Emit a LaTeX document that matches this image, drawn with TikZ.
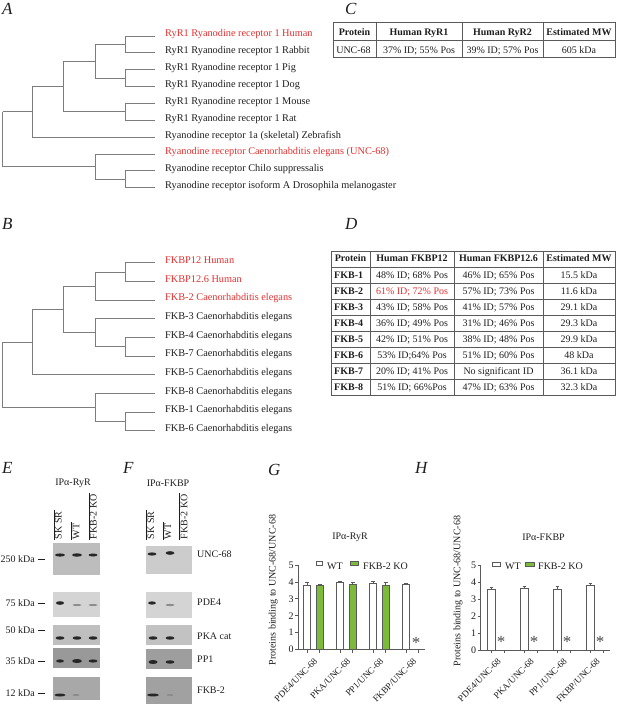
\documentclass[tikz,border=0pt]{standalone}
\usepackage{fontspec}
\setmainfont{Liberation Serif}
\definecolor{redtxt}{RGB}{226,48,48}
\definecolor{treegray}{RGB}{125,125,125}
\definecolor{axgray}{RGB}{90,90,90}
\definecolor{barg}{RGB}{124,186,58}
\definecolor{tabline}{RGB}{90,90,90}
\definecolor{txt}{RGB}{30,30,30}
\begin{document}
\begin{tikzpicture}[x=1pt,y=-1pt,
  tree/.style={draw=treegray,line width=0.9pt},
  leaf/.style={anchor=base west,inner sep=0pt,text=txt,font=\fontsize{10.3}{12}\selectfont},
  plabel/.style={anchor=base west,inner sep=0pt,text=txt,font=\fontsize{17}{20}\selectfont\itshape},
  cell/.style={anchor=base,inner sep=0pt,text=txt,font=\fontsize{10}{12}\selectfont},
  hcell/.style={cell,font=\fontsize{10}{12}\selectfont\bfseries},
  tab/.style={draw=tabline,line width=0.8pt},
  lab/.style={inner sep=0pt,text=txt,font=\fontsize{10}{12}\selectfont},
  catlab/.style={inner sep=0pt,text=txt,font=\fontsize{9.2}{11}\selectfont,rotate=45,anchor=east},
  lane/.style={lab,rotate=90,anchor=base west,inner sep=0.8pt},
  lanebar/.style={draw=txt,line width=0.7pt},
  band/.style={fill=black!85},
  fband/.style={fill=black!45},
  wtbar/.style={draw=axgray,fill=white,line width=0.7pt},
  kobar/.style={draw=axgray,fill=barg,line width=0.7pt},
  ax/.style={draw=axgray,line width=0.8pt},
  err/.style={draw=axgray,line width=0.6pt},
  star/.style={anchor=base,inner sep=0pt,text=black!70,font=\fontsize{17}{18}\selectfont},
]
\useasboundingbox (0,0) rectangle (617,706);

% ---------------- A ----------------
\node[plabel] (lA) at (2,15) {A};
\draw[tree] (155,36)--(125,36)--(125,52.9)--(155,52.9) (95,44.45)--(125,44.45);
\draw[tree] (155,69.7)--(125,69.7)--(125,86.6)--(155,86.6) (95,78.15)--(125,78.15);
\draw[tree] (95,44.45)--(95,78.15) (63.3,61.3)--(95,61.3);
\draw[tree] (155,103.4)--(125,103.4)--(125,120.3)--(155,120.3) (63.3,111.85)--(125,111.85);
\draw[tree] (63.3,61.3)--(63.3,111.85) (32.3,86.6)--(63.3,86.6);
\draw[tree] (32.3,86.6)--(32.3,137.2)--(155,137.2) (2.7,111.9)--(32.3,111.9);
\draw[tree] (155,170.9)--(125,170.9)--(125,187.7)--(155,187.7) (95,179.3)--(125,179.3);
\draw[tree] (155,154)--(95,154)--(95,179.3) (2.7,166.65)--(95,166.65);
\draw[tree] (2.7,111.9)--(2.7,166.65);
\node[leaf,text=redtxt] (a0) at (165,36.8) {RyR1 Ryanodine receptor 1 Human};
\node[leaf] (a1) at (165,53.7) {RyR1 Ryanodine receptor 1 Rabbit};
\node[leaf] (a2) at (165,70.5) {RyR1 Ryanodine receptor 1 Pig};
\node[leaf] (a3) at (165,87.4) {RyR1 Ryanodine receptor 1 Dog};
\node[leaf] (a4) at (165,104.2) {RyR1 Ryanodine receptor 1 Mouse};
\node[leaf] (a5) at (165,121.1) {RyR1 Ryanodine receptor 1 Rat};
\node[leaf] (a6) at (165,138) {Ryanodine receptor 1a (skeletal) Zebrafish};
\node[leaf,text=redtxt] (a7) at (165,154.8) {Ryanodine receptor Caenorhabditis elegans (UNC-68)};
\node[leaf] (a8) at (165,171.7) {Ryanodine receptor Chilo suppressalis};
\node[leaf] (a9) at (165,188.5) {Ryanodine receptor isoform A Drosophila melanogaster};

% ---------------- B ----------------
\node[plabel] (lB) at (2,229) {B};
\draw[tree] (155,262.7)--(125,262.7)--(125,281.4)--(155,281.4) (95,272.05)--(125,272.05);
\draw[tree] (95,272.05)--(95,300)--(155,300) (63.3,286)--(95,286);
\draw[tree] (155,337.4)--(125,337.4)--(125,356)--(155,356) (95,346.7)--(125,346.7);
\draw[tree] (155,318.7)--(95,318.7)--(95,346.7) (63.3,332.7)--(95,332.7);
\draw[tree] (63.3,286)--(63.3,332.7) (32.3,309.35)--(63.3,309.35);
\draw[tree] (32.3,309.35)--(32.3,374.7)--(155,374.7) (2,342)--(32.3,342);
\draw[tree] (155,412.1)--(125,412.1)--(125,430.7)--(155,430.7) (95,421.4)--(125,421.4);
\draw[tree] (155,393.4)--(95,393.4)--(95,421.4) (2,407.4)--(95,407.4);
\draw[tree] (2,342)--(2,407.4);
\node[leaf,text=redtxt] (b0) at (165,263.4) {FKBP12 Human};
\node[leaf,text=redtxt] (b1) at (165,282.1) {FKBP12.6 Human};
\node[leaf,text=redtxt] (b2) at (165,300.7) {FKB-2 Caenorhabditis elegans};
\node[leaf] (b3) at (165,319.4) {FKB-3 Caenorhabditis elegans};
\node[leaf] (b4) at (165,338.1) {FKB-4 Caenorhabditis elegans};
\node[leaf] (b5) at (165,356.7) {FKB-7 Caenorhabditis elegans};
\node[leaf] (b6) at (165,375.4) {FKB-5 Caenorhabditis elegans};
\node[leaf] (b7) at (165,394.1) {FKB-8 Caenorhabditis elegans};
\node[leaf] (b8) at (165,412.8) {FKB-1 Caenorhabditis elegans};
\node[leaf] (b9) at (165,431.4) {FKB-6 Caenorhabditis elegans};

% ---------------- C ----------------
\node[plabel] (lC) at (345,15) {C};
\draw[tab] (333,22.7) rectangle (615,57);
\draw[tab] (333,40)--(615,40) (376,22.7)--(376,57) (462,22.7)--(462,57) (543,22.7)--(543,57);
\node[hcell] (c01) at (354.5,36) {Protein};
\node[hcell] (c02) at (419,36) {Human RyR1};
\node[hcell] (c03) at (502.5,36) {Human RyR2};
\node[hcell] (c04) at (579,36) {Estimated MW};
\node[cell] (c11) at (353.5,53.3) {UNC-68};
\node[cell] (c12) at (419,53.3) {37\% ID; 55\% Pos};
\node[cell] (c13) at (502.5,53.3) {39\% ID; 57\% Pos};
\node[cell] (c14) at (579,53.3) {605 kDa};

% ---------------- D ----------------
\node[plabel] (lD) at (345,229) {D};
\draw[tab] (331,251.7) rectangle (615,395);
\foreach \yy in {267,283,...,379} \draw[tab] (331,\yy)--(615,\yy);
\draw[tab] (370,251.7)--(370,395) (454,251.7)--(454,395) (543,251.7)--(543,395);
\node[hcell] (d01) at (350.5,261.8) {Protein};
\node[hcell] (d02) at (412,261.8) {Human FKBP12};
\node[hcell] (d03) at (498.5,261.8) {Human FKBP12.6};
\node[hcell] (d04) at (579,261.8) {Estimated MW};
\node[hcell,anchor=base west] (d11) at (334,278.5) {FKB-1};
\node[cell] (d12) at (412,278.5) {48\% ID; 68\% Pos};
\node[cell] (d13) at (498.5,278.5) {46\% ID; 65\% Pos};
\node[cell] (d14) at (579,278.5) {15.5 kDa};
\node[hcell,anchor=base west] (d21) at (334,294.5) {FKB-2};
\node[cell,text=redtxt] (d22) at (412,294.5) {61\% ID; 72\% Pos};
\node[cell] (d23) at (498.5,294.5) {57\% ID; 73\% Pos};
\node[cell] (d24) at (579,294.5) {11.6 kDa};
\node[hcell,anchor=base west] (d31) at (334,310.5) {FKB-3};
\node[cell] (d32) at (412,310.5) {43\% ID; 58\% Pos};
\node[cell] (d33) at (498.5,310.5) {41\% ID; 57\% Pos};
\node[cell] (d34) at (579,310.5) {29.1 kDa};
\node[hcell,anchor=base west] (d41) at (334,326.5) {FKB-4};
\node[cell] (d42) at (412,326.5) {36\% ID; 49\% Pos};
\node[cell] (d43) at (498.5,326.5) {31\% ID; 46\% Pos};
\node[cell] (d44) at (579,326.5) {29.3 kDa};
\node[hcell,anchor=base west] (d51) at (334,342.5) {FKB-5};
\node[cell] (d52) at (412,342.5) {42\% ID; 51\% Pos};
\node[cell] (d53) at (498.5,342.5) {38\% ID; 48\% Pos};
\node[cell] (d54) at (579,342.5) {29.9 kDa};
\node[hcell,anchor=base west] (d61) at (334,358.5) {FKB-6};
\node[cell] (d62) at (412,358.5) {53\% ID;64\% Pos};
\node[cell] (d63) at (498.5,358.5) {51\% ID; 60\% Pos};
\node[cell] (d64) at (579,358.5) {48 kDa};
\node[hcell,anchor=base west] (d71) at (334,374.5) {FKB-7};
\node[cell] (d72) at (412,374.5) {20\% ID; 41\% Pos};
\node[cell] (d73) at (498.5,374.5) {No significant ID};
\node[cell] (d74) at (579,374.5) {36.1 kDa};
\node[hcell,anchor=base west] (d81) at (334,390.5) {FKB-8};
\node[cell] (d82) at (412,390.5) {51\% ID; 66\%Pos};
\node[cell] (d83) at (498.5,390.5) {47\% ID; 63\% Pos};
\node[cell] (d84) at (579,390.5) {32.3 kDa};

% ---------------- E ----------------
\node[plabel] (lE) at (2,473) {E};
\node[lab] (eti) at (73,483) {IPα-RyR};
\node[lane] (e1) at (61.6,540) {SK SR};
\node[lane] (e2) at (79.3,540) {WT};
\node[lane] (e3) at (96.6,540) {FKB-2 KO};
\draw[lanebar] (e1.north west)--(e1.north east) (e2.north west)--(e2.north east) (e3.north west)--(e3.north east);
\fill[black!26] (53.3,543) rectangle (100,575);
\fill[black!17] (53.3,592) rectangle (100,617);
\fill[black!25] (53.3,625) rectangle (100,645);
\fill[black!40] (53.3,648) rectangle (100,668);
\fill[black!34] (53.3,677) rectangle (100,700);
\fill[band] (60,555) ellipse (5 and 1.6) (77,555) ellipse (5 and 1.7) (93,555) ellipse (4.5 and 1.5);
\fill[band] (60,603) ellipse (4 and 1.8);
\fill[fband] (77,605) ellipse (4.5 and 1) (93,605) ellipse (4.5 and 1);
\fill[band] (60,638) ellipse (4.5 and 1.7) (77,638) ellipse (4.5 and 1.7) (93,638) ellipse (4.5 and 1.7);
\fill[band] (60,661) ellipse (4 and 1.6) (77,661) ellipse (5 and 2) (93,661) ellipse (4.5 and 1.6);
\fill[band] (60,695) ellipse (5.5 and 1.5);
\fill[fband] (76,695) ellipse (3.5 and 1);
\node[lab,anchor=base east] (k250) at (35,562.4) {250 kDa};
\node[lab,anchor=base east] (k75) at (35,606.4) {75 kDa};
\node[lab,anchor=base east] (k50) at (35,633.4) {50 kDa};
\node[lab,anchor=base east] (k35) at (35,664.4) {35 kDa};
\node[lab,anchor=base east] (k12) at (35,696.4) {12 kDa};
\coordinate (m1a) at (38,559); \coordinate (m1b) at (45,559);
\coordinate (m2a) at (38,603); \coordinate (m2b) at (45,603);
\coordinate (m3a) at (38,630); \coordinate (m3b) at (45,630);
\coordinate (m4a) at (38,661); \coordinate (m4b) at (45,661);
\coordinate (m5a) at (38,693); \coordinate (m5b) at (45,693);
\draw[txt,line width=0.9pt] (m1a)--(m1b) (m2a)--(m2b) (m3a)--(m3b) (m4a)--(m4b) (m5a)--(m5b);

% ---------------- F ----------------
\node[plabel] (lF) at (123,473) {F};
\node[lab] (fti) at (168,483) {IPα-FKBP};
\node[lane] (f1) at (154,540) {SK SR};
\node[lane] (f2) at (171,540) {WT};
\node[lane] (f3) at (187.3,540) {FKB-2 KO};
\draw[lanebar] (f1.north west)--(f1.north east) (f2.north west)--(f2.north east) (f3.north west)--(f3.north east);
\fill[black!20] (146,546) rectangle (191.7,574);
\fill[black!17] (146,592) rectangle (191.7,618);
\fill[black!24] (146,625) rectangle (191.7,645);
\fill[black!38] (146,649) rectangle (191.7,669);
\fill[black!37] (146,677) rectangle (191.7,704);
\fill[band] (152,554) ellipse (4.5 and 1.6) (170,553) ellipse (4.5 and 1.8);
\fill[band] (152,603) ellipse (4 and 1.6);
\fill[fband] (170,605) ellipse (4.5 and 1.1);
\fill[band] (153,638) ellipse (4.5 and 1.7) (170,638) ellipse (4.5 and 1.7);
\fill[band] (153,662) ellipse (4.5 and 2) (170,662) ellipse (4.5 and 1.7);
\fill[band] (153,695) ellipse (6 and 1.4);
\fill[fband] (170,695) ellipse (3.5 and 1);
\node[lab,anchor=base west] (r1) at (197,557.4) {UNC-68};
\node[lab,anchor=base west] (r2) at (197,605.4) {PDE4};
\node[lab,anchor=base west] (r3) at (197,639.4) {PKA cat};
\node[lab,anchor=base west] (r4) at (197,662.4) {PP1};
\node[lab,anchor=base west] (r5) at (197,693.4) {FKB-2};

% ---------------- G ----------------
\node[plabel] (lG) at (268,475) {G};
\node[lab] (gti) at (350,537) {IPα-RyR};
\node[lab,rotate=90] (gyl) at (273.3,590) {Proteins binding to UNC-68/UNC-68};
\draw[wtbar] (316,561.5) rectangle (322,565.5);
\node[lab,anchor=base west] (gl1) at (327,569) {WT};
\draw[kobar] (350,561.5) rectangle (358,565.5);
\node[lab,anchor=base west] (gl2) at (363,569) {FKB-2 KO};
\begin{scope}[shift={(298.3,649.5)},y=16.9pt]
  \foreach \v in {0,...,5} {
    \draw[ax] (-3,\v)--(0,\v);
    \node[lab,anchor=east] (gt\v) at (-4.5,\v) {\v};
  }
  \foreach \i/\a/\ea/\b/\eb in {0/3.8/0.15/3.78/0.1,1/3.95/0.1/3.85/0.15,2/3.9/0.12/3.78/0.2} {
    \pgfmathsetmacro\xa{5+33*\i}
    \draw[wtbar] (\xa,0) rectangle ++(7.4,\a);
    \draw[err] (\xa+3.7,\a)--++(0,\ea) ++(-1.8,0)--++(3.6,0);
    \draw[kobar] (\xa+12.7,0) rectangle ++(7.4,\b);
    \draw[err] (\xa+16.4,\b)--++(0,\eb) ++(-1.8,0)--++(3.6,0);
    \draw[ax] (\xa+3.7,0)--++(0,-0.18) (\xa+16.4,0)--++(0,-0.18);
  }
  \draw[wtbar] (104,0) rectangle ++(7.4,3.85);
  \draw[err] (107.7,3.85)--++(0,0.08) ++(-1.8,0)--++(3.6,0);
  \draw[ax] (107.7,0)--++(0,-0.18) (120.4,0)--++(0,-0.18);
  \draw[ax] (0,0)--(0,5);
  \draw[ax] (0,0)--(127,0);
\end{scope}
\node[star] (gs4) at (416,648) {*};
\foreach \i/\t in {0/PDE4,1/PKA,2/PP1,3/FKBP}
  \node[catlab] (gc\i) at (316+33*\i,660) {\t/UNC-68};

% ---------------- H ----------------
\node[plabel] (lH) at (415,473) {H};
\node[lab] (hti) at (543.5,537) {IPα-FKBP};
\node[lab,rotate=90] (hyl) at (458,591) {Proteins binding to UNC-68/UNC-68};
\draw[wtbar] (492,562) rectangle (500,566);
\node[lab,anchor=base west] (hl1) at (505,569.5) {WT};
\draw[kobar] (525,562) rectangle (534,566);
\node[lab,anchor=base west] (hl2) at (538,569.5) {FKB-2 KO};
\begin{scope}[shift={(480.7,650)},y=16.9pt]
  \foreach \v in {0,...,5} {
    \draw[ax] (-3,\v)--(0,\v);
    \node[lab,anchor=east] (ht\v) at (-4.5,\v) {\v};
  }
  \foreach \i/\a/\ea in {0/3.6/0.1,1/3.62/0.15,2/3.58/0.2,3/3.8/0.15} {
    \pgfmathsetmacro\xa{7+33*\i}
    \draw[wtbar] (\xa,0) rectangle ++(7.4,\a);
    \draw[err] (\xa+3.7,\a)--++(0,\ea) ++(-1.8,0)--++(3.6,0);
    \draw[ax] (\xa+3.7,0)--++(0,-0.18) (\xa+16.4,0)--++(0,-0.18);
  }
  \draw[ax] (0,0)--(0,5);
  \draw[ax] (0,0)--(129.3,0);
\end{scope}
\foreach \i in {0,1,2,3}
  \node[star] (hs\i) at (501+33*\i,647) {*};
\foreach \i/\t in {0/PDE4,1/PKA,2/PP1,3/FKBP}
  \node[catlab] (hc\i) at (499.5+33*\i,660) {\t/UNC-68};
\end{tikzpicture}
\end{document}
